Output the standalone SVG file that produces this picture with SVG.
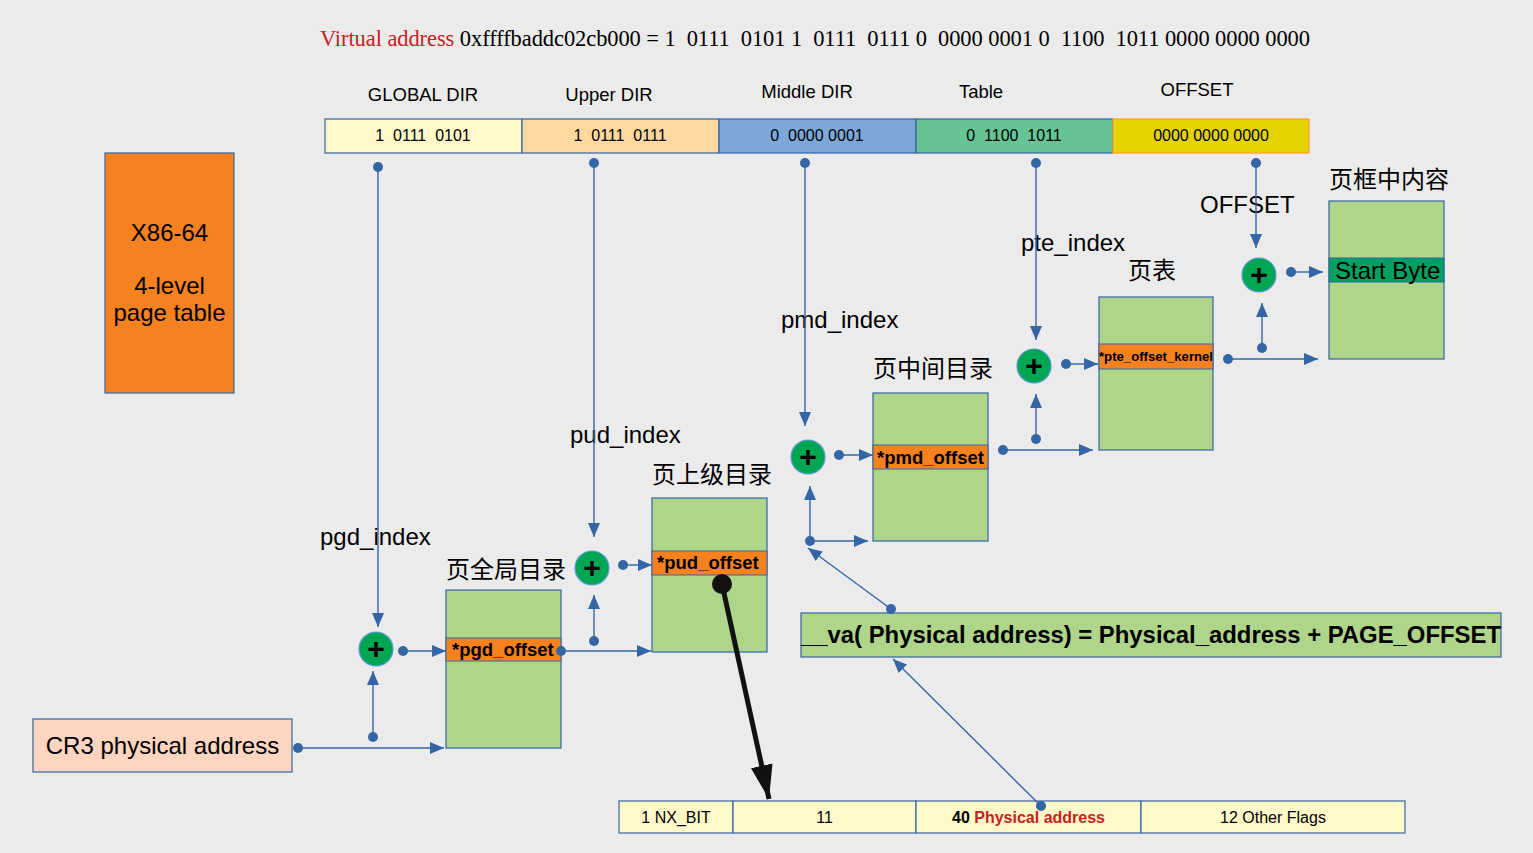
<svg xmlns="http://www.w3.org/2000/svg" width="1533" height="853" viewBox="0 0 1533 853">
<style>
text{font-family:"Liberation Sans",Arial,sans-serif;fill:#000}
.pre{white-space:pre}
.lbl{font-size:24px}
.cjk{font-size:24px;font-family:"Liberation Sans","Noto Sans CJK SC",sans-serif}
.hdr{font-size:18.5px;text-anchor:middle}
.bit{font-size:16px;text-anchor:middle}
.tbl{fill:#afd58a;stroke:#3465a4;stroke-width:1.2}
.row{fill:#f5821f;stroke:#3465a4;stroke-width:1}
.rowt{font-size:18.5px;font-weight:bold}
.con{stroke:#3465a4;stroke-width:1.4;fill:none}
.dot{fill:#3465a4}
.plus{fill:#00a651;stroke:#5b9bd5;stroke-width:1.2}
.pt{font-size:30px;font-weight:bold;text-anchor:middle}
.cell{stroke:#3465a4;stroke-width:1.2}
</style>
<defs>
<marker id="a" markerUnits="userSpaceOnUse" markerWidth="14" markerHeight="12" refX="14" refY="6" orient="auto"><path d="M0,0 L14,6 L0,12 z" fill="#3465a4"/></marker>
<marker id="b" markerUnits="userSpaceOnUse" markerWidth="34" markerHeight="22" refX="34" refY="11" orient="auto"><path d="M0,0 L34,11 L0,22 z" fill="#111"/></marker>
</defs>
<rect width="1533" height="853" fill="#ebebeb"/>

<g id="title">
<text x="320" y="46" class="pre" style="font-family:'Liberation Serif','Times New Roman',serif;font-size:22.5px" textLength="990"><tspan fill="#c9211e">Virtual address</tspan> 0xffffbaddc02cb000 = 1  0111  0101 1  0111  0111 0  0000 0001 0  1100  1011 0000 0000 0000</text>
</g>

<g id="bitfield">
<text x="423" y="101" class="hdr">GLOBAL DIR</text>
<text x="609" y="101" class="hdr">Upper DIR</text>
<text x="807" y="98" class="hdr">Middle DIR</text>
<text x="981" y="98" class="hdr">Table</text>
<text x="1197" y="96" class="hdr">OFFSET</text>
<rect x="325" y="119" width="197" height="34" fill="#fff9c9" class="cell"/>
<rect x="522" y="119" width="197" height="34" fill="#ffd8a0" class="cell"/>
<rect x="719" y="119" width="197" height="34" fill="#7ba7d9" class="cell"/>
<rect x="916" y="119" width="197" height="34" fill="#66c494" class="cell"/>
<rect x="1113" y="119" width="196" height="34" fill="#e5d300" stroke="#ff9c2a" stroke-width="1.2"/>
<text x="423" y="141" class="bit pre">1  0111  0101</text>
<text x="620" y="141" class="bit pre">1  0111  0111</text>
<text x="817" y="141" class="bit pre">0  0000 0001</text>
<text x="1014" y="141" class="bit pre">0  1100  1011</text>
<text x="1211" y="141" class="bit pre">0000 0000 0000</text>
</g>

<g id="x86">
<rect x="105" y="153" width="129" height="240" fill="#f5821f" stroke="#3465a4" stroke-width="1.2"/>
<text x="169.5" y="241" class="lbl" text-anchor="middle">X86-64</text>
<text x="169.5" y="294" class="lbl" text-anchor="middle">4-level</text>
<text x="169.5" y="321" class="lbl" text-anchor="middle">page table</text>
</g>

<g id="cr3">
<rect x="33" y="719" width="259" height="53" fill="#fdd5c0" stroke="#3465a4" stroke-width="1.2"/>
<text x="162.5" y="754" class="lbl" text-anchor="middle">CR3 physical address</text>
</g>

<g id="labels">
<text x="320" y="545" class="lbl">pgd_index</text>
<text x="570" y="443" class="lbl">pud_index</text>
<text x="781" y="328" class="lbl">pmd_index</text>
<text x="1021" y="251" class="lbl">pte_index</text>
<text x="1200" y="213" class="lbl">OFFSET</text>
</g>

<g id="pgd">
<text x="446" y="578" class="cjk">页全局目录</text>
<rect x="446" y="590" width="115" height="158" class="tbl"/>
<rect x="446" y="638" width="115" height="23" class="row"/>
<text x="452" y="656" class="rowt">*pgd_offset</text>
</g>

<g id="pud">
<text x="652" y="483" class="cjk">页上级目录</text>
<rect x="652" y="498" width="115" height="154" class="tbl"/>
<rect x="652" y="551" width="115" height="24" class="row"/>
<text x="657" y="569" class="rowt">*pud_offset</text>
</g>

<g id="pmd">
<text x="873" y="377" class="cjk">页中间目录</text>
<rect x="873" y="393" width="115" height="148" class="tbl"/>
<rect x="873" y="445" width="115" height="24" class="row"/>
<text x="877" y="464" class="rowt">*pmd_offset</text>
</g>

<g id="pte">
<text x="1128" y="279" class="cjk">页表</text>
<rect x="1099" y="297" width="114" height="153" class="tbl"/>
<rect x="1099" y="344" width="114" height="25" class="row"/>
<text x="1099" y="361" style="font-size:12px;font-weight:bold" textLength="114" lengthAdjust="spacingAndGlyphs">*pte_offset_kernel</text>
</g>

<g id="frame">
<text x="1329" y="188" class="cjk">页框中内容</text>
<rect x="1329" y="201" width="115" height="158" class="tbl"/>
<rect x="1329" y="258" width="115" height="24" fill="#00a060" stroke="#3465a4" stroke-width="1"/>
<text x="1335" y="279" class="lbl">Start Byte</text>
</g>

<g id="va">
<rect x="801" y="613" width="700" height="44" class="tbl"/>
<text x="801" y="643" style="font-size:23px;font-weight:bold" textLength="700" lengthAdjust="spacingAndGlyphs">__va( Physical address) = Physical_address + PAGE_OFFSET</text>
</g>

<g id="entry">
<rect x="619" y="801" width="114" height="32" fill="#fff9c9" class="cell"/>
<rect x="733" y="801" width="183" height="32" fill="#fff9c9" class="cell"/>
<rect x="916" y="801" width="225" height="32" fill="#fff9c9" class="cell"/>
<rect x="1141" y="801" width="264" height="32" fill="#fff9c9" class="cell"/>
<text x="676" y="823" class="bit">1 NX_BIT</text>
<text x="824.5" y="823" class="bit">11</text>
<text x="1028.5" y="823" class="bit" style="font-weight:bold">40 <tspan fill="#c9211e">Physical address</tspan></text>
<text x="1273" y="823" class="bit">12 Other Flags</text>
</g>

<g id="plus">
<circle cx="376" cy="649" r="17" class="plus"/><text x="376" y="659" class="pt">+</text>
<circle cx="592" cy="568" r="17" class="plus"/><text x="592" y="578" class="pt">+</text>
<circle cx="808" cy="457" r="17" class="plus"/><text x="808" y="467" class="pt">+</text>
<circle cx="1034" cy="366" r="17" class="plus"/><text x="1034" y="376" class="pt">+</text>
<circle cx="1259" cy="275" r="17" class="plus"/><text x="1259" y="285" class="pt">+</text>
</g>

<g id="connectors">
<path class="con" d="M378,167 V627" marker-end="url(#a)"/>
<path class="con" d="M594,163 V537" marker-end="url(#a)"/>
<path class="con" d="M805,163 V426" marker-end="url(#a)"/>
<path class="con" d="M1036,163 V340" marker-end="url(#a)"/>
<path class="con" d="M1256,163 V248" marker-end="url(#a)"/>
<circle cx="378" cy="167" r="5" class="dot"/>
<circle cx="594" cy="163" r="5" class="dot"/>
<circle cx="805" cy="163" r="5" class="dot"/>
<circle cx="1036" cy="163" r="5" class="dot"/>
<circle cx="1256" cy="163" r="5" class="dot"/>
<path class="con" d="M298,748 H444" marker-end="url(#a)"/>
<circle cx="298" cy="748" r="5" class="dot"/>
<path class="con" d="M373,737 V671" marker-end="url(#a)"/>
<circle cx="373" cy="737" r="5" class="dot"/>
<path class="con" d="M403,651 H446" marker-end="url(#a)"/>
<circle cx="403" cy="651" r="5" class="dot"/>
<path class="con" d="M561,651 H651" marker-end="url(#a)"/>
<circle cx="561" cy="651" r="5" class="dot"/>
<path class="con" d="M594,641 V595" marker-end="url(#a)"/>
<circle cx="594" cy="641" r="5" class="dot"/>
<path class="con" d="M623,565 H652" marker-end="url(#a)"/>
<circle cx="623" cy="565" r="5" class="dot"/>
<path d="M722,584 L769,799" stroke="#111" stroke-width="5" fill="none" marker-end="url(#b)"/>
<circle cx="722" cy="584" r="10" fill="#111"/>
<path class="con" d="M1041,806 L893,659" marker-end="url(#a)"/>
<circle cx="1041" cy="806" r="5" class="dot"/>
<path class="con" d="M891,609 L808,548" marker-end="url(#a)"/>
<circle cx="891" cy="609" r="5" class="dot"/>
<path class="con" d="M810,541 H868" marker-end="url(#a)"/>
<path class="con" d="M810,541 V486" marker-end="url(#a)"/>
<circle cx="810" cy="541" r="5" class="dot"/>
<path class="con" d="M839,455 H873" marker-end="url(#a)"/>
<circle cx="839" cy="455" r="5" class="dot"/>
<path class="con" d="M1003,450 H1093" marker-end="url(#a)"/>
<circle cx="1003" cy="450" r="5" class="dot"/>
<path class="con" d="M1036,439 V394" marker-end="url(#a)"/>
<circle cx="1036" cy="439" r="5" class="dot"/>
<path class="con" d="M1066,364 H1098" marker-end="url(#a)"/>
<circle cx="1066" cy="364" r="5" class="dot"/>
<path class="con" d="M1228,359 H1318" marker-end="url(#a)"/>
<circle cx="1228" cy="359" r="5" class="dot"/>
<path class="con" d="M1262,348 V303" marker-end="url(#a)"/>
<circle cx="1262" cy="348" r="5" class="dot"/>
<path class="con" d="M1291,272 H1323" marker-end="url(#a)"/>
<circle cx="1291" cy="272" r="5" class="dot"/>
</g>
</svg>
